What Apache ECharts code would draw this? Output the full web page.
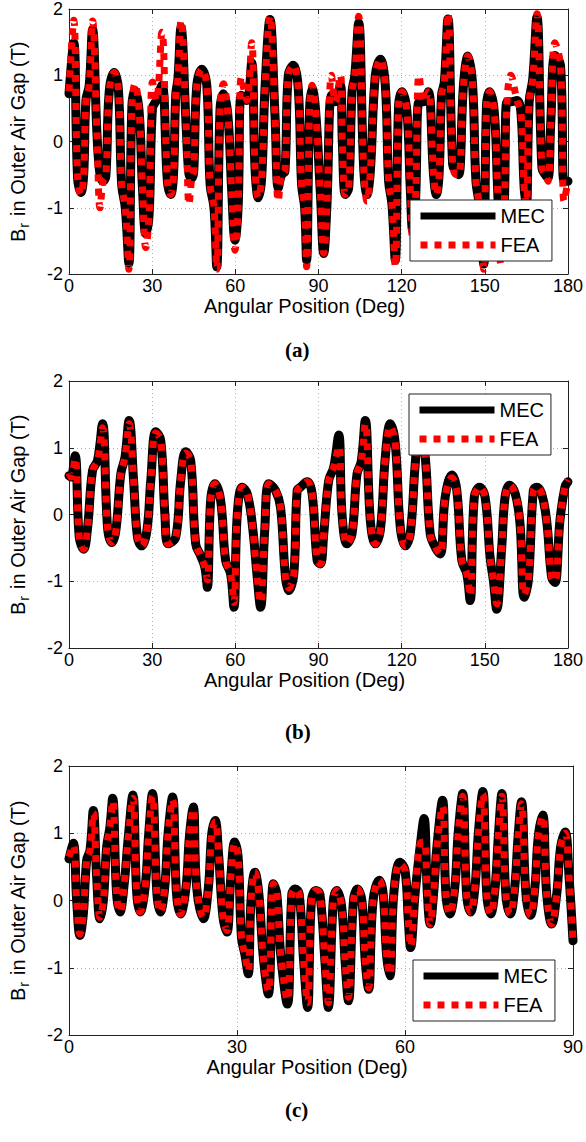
<!DOCTYPE html>
<html><head><meta charset="utf-8">
<script src="https://cdn.jsdelivr.net/npm/echarts@6/dist/echarts.min.js"></script>
<style>html,body{margin:0;padding:0;background:#fff}#c{width:586px;height:1142px}</style>
</head><body><div id="c"></div>
<script>
// ---------- Panel (a) ----------
const aX = [0,1.7,3.1,4.3,5.3,6.1,7.3,8.5,10.1,11.2,12.3,13.3,14.5,16.3,17.8,19.0,20.3,21.6,22.7,23.8,25.3,26.5,27.7,28.9,30.1,31.5,33.5,35.5,36.7,37.7,38.5,39.3,40.4,42.3,43.3,44.3,45.0,46.1,47.9,49.7,50.9,52.3,53.3,54.5,55.7,57.3,58.7,59.9,61.0,62.2,64.1,65.9,67.1,68.3,69.5,70.7,72.5,74.3,75.5,76.7,77.9,79.1,80.9,82.7,83.9,85.0,85.7,86.8,87.7,88.9,90.7,91.9,93.0,94.7,96.1,97.9,98.6,99.7,100.9,102.1,103.1,104.5,106.3,107.5,108.7,110.5,112.3,114.1,115.3,116.5,117.7,118.9,120.1,121.9,123.1,124.0,125.0,126.3,128.0,129.6,131.5,132.5,133.5,134.4,135.4,136.7,138.4,139.6,140.6,142.3,143.9,145.6,146.8,148.2,149.6,150.6,151.7,153.4,154.6,155.8,157.0,158.0,159.4,161.6,163.0,164.2,165.0,166.0,167.3,168.8,170.6,171.8,172.8,173.8,175.3,177.3,178.6,180];
const aMEC = [0.72,1.49,-0.55,-0.77,-0.5,0.62,0.85,1.69,0.1,-0.5,-0.6,-0.52,0.75,1.04,0.8,-0.65,-1.0,-1.84,0.55,0.77,0.45,-0.7,-1.39,-1.1,0.5,0.62,0.85,-0.6,-0.8,-0.5,0.7,0.95,1.72,0.2,-0.5,-0.55,-0.45,0.85,1.09,0.85,-0.65,-1.0,-1.89,0.5,0.72,0.4,-0.75,-1.49,-1.0,0.7,0.62,1.19,-0.4,-0.85,-0.55,0.8,1.84,0.4,-0.7,-0.5,-0.45,1.0,1.15,0.8,-0.65,-1.0,-1.79,0.5,0.8,0.5,-0.8,-1.69,-1.0,0.7,0.6,0.85,0.0,-0.8,-0.7,0.75,1.0,1.79,-0.4,-0.8,-0.45,1.0,1.24,0.85,-0.6,-0.95,-1.79,0.55,0.75,0.45,-0.7,-1.35,-0.9,0.6,0.6,0.75,-0.5,-0.8,-0.5,0.7,0.9,1.85,-0.35,-0.45,-0.5,0.85,1.29,0.85,-0.6,-1.0,-1.85,0.55,0.75,0.45,-0.7,-1.75,-1.0,0.6,0.6,0.62,0.45,-0.7,-0.95,0.6,0.95,1.88,-0.4,-0.5,-0.55,0.3,1.3,1.15,-0.6,-0.6];
const aFEA = [0.76,1.83,-0.55,-0.8,-0.5,0.62,0.85,1.82,0.1,-1.0,-0.6,-0.52,0.75,1.04,0.8,-0.65,-1.0,-1.93,0.55,0.87,0.45,-0.7,-1.6,-1.1,0.9,0.62,1.65,-0.6,-0.8,-0.5,0.7,0.95,1.83,0.2,-0.95,-0.55,-0.45,0.85,1.09,0.85,-0.65,-1.0,-1.93,0.5,0.87,0.4,-0.75,-1.64,-1.0,0.97,0.62,1.49,-0.4,-0.85,-0.55,0.8,1.89,0.4,-0.9,-0.5,-0.45,1.0,1.15,0.8,-0.65,-1.0,-1.89,0.5,0.85,0.5,-0.8,-1.69,-1.0,1.0,0.6,1.0,0.0,-0.8,-0.7,0.75,1.0,1.89,-0.4,-0.9,-0.45,1.0,1.24,0.85,-0.6,-0.95,-1.89,0.55,0.75,0.45,-0.7,-1.5,-0.9,1.0,0.6,0.75,-0.5,-0.8,-0.5,0.7,0.9,1.93,-0.35,-0.5,-0.5,0.85,1.29,0.85,-0.6,-1.0,-1.93,0.55,0.75,0.45,-0.7,-1.85,-1.0,0.6,1.0,0.62,0.45,-0.7,-0.95,0.6,0.95,1.93,-0.4,-0.5,-0.6,0.3,1.49,1.15,-0.9,-0.6];

// ---------- Panel (b) ----------
const bX = [0,0.7,2.2,3.7,5.3,6.7,8.5,10.3,12.1,13.9,15.4,16.9,18.7,20.2,21.7,23.3,24.7,26.2,28.1,29.5,31.3,33.1,34.6,35.8,38.5,40.3,42.1,43.9,45.7,47.5,49.0,49.9,51.1,52.6,54.7,56.5,58.3,59.5,60.7,62.5,64.3,66.1,67.9,69.1,70.6,72.1,74.5,76.3,78.1,79.3,81.1,82.3,83.5,85.9,87.7,89.5,90.7,91.9,93.7,95.5,97.3,98.5,100.3,102.1,103.9,105.4,106.9,108.7,110.5,112.3,114.1,115.9,117.7,119.5,121.3,123.1,124.9,126.3,128.3,130.3,132.1,133.9,135.7,138.1,139.9,141.7,143.5,144.7,146.2,148.1,150.1,151.9,153.1,154.3,156.1,157.3,158.9,161.0,162.7,164.2,165.7,167.5,168.7,170.5,172.3,174.1,175.3,177.1,178.9,180];
const bMEC = [0.58,0.56,0.88,-0.34,-0.52,-0.2,0.66,0.81,1.36,-0.19,-0.42,-0.24,0.61,0.86,1.41,0.51,-0.34,-0.47,-0.24,0.51,1.24,1.11,0,-0.44,-0.34,0.51,0.94,0.81,-0.44,-0.62,-0.79,-1.09,0.21,0.46,0.21,-0.69,-0.89,-1.39,0,0.41,0.31,-0.14,-0.94,-1.39,-0.24,0.46,0.36,0.11,-0.94,-1.14,-0.89,0.36,0.41,0.49,0.31,-0.69,-0.74,-0.29,0.51,0.71,1.19,0,-0.44,-0.29,0.61,0.79,1.41,-0.09,-0.44,-0.24,0.86,1.36,1.06,-0.19,-0.47,-0.29,0.76,1.25,0.95,-0.29,-0.49,-0.59,0.26,0.59,0.36,-0.69,-0.89,-1.29,0.26,0.41,0.26,-0.64,-0.99,-1.42,-0.49,0.26,0.44,0.31,-0.14,-1.24,-0.99,0.36,0.41,0.31,-0.09,-0.94,-1.02,-0.09,0.41,0.49];
const bFEA = [0.62,0.56,0.84,-0.34,-0.52,-0.2,0.66,0.81,1.3,-0.19,-0.42,-0.24,0.61,0.86,1.36,0.51,-0.34,-0.47,-0.24,0.51,1.22,1.11,0,-0.44,-0.34,0.51,0.92,0.81,-0.44,-0.62,-0.79,-0.98,0.21,0.46,0.21,-0.69,-0.89,-1.32,0,0.41,0.31,-0.14,-0.94,-1.32,-0.24,0.46,0.36,0.11,-0.94,-1.1,-0.89,0.36,0.41,0.49,0.31,-0.69,-0.74,-0.29,0.51,0.71,1.02,0,-0.44,-0.29,0.61,0.79,1.36,-0.09,-0.44,-0.24,0.86,1.32,1.06,-0.19,-0.47,-0.29,0.76,1.22,0.95,-0.29,-0.49,-0.59,0.26,0.55,0.36,-0.69,-0.89,-1.22,0.26,0.41,0.26,-0.64,-0.99,-1.34,-0.49,0.26,0.44,0.31,-0.14,-1.2,-0.99,0.36,0.41,0.31,-0.09,-0.94,-1.0,-0.09,0.41,0.52];

// ---------- Panel (c) ----------
const cX = [0,0.77,1.37,1.96,2.56,3.16,3.75,4.35,4.94,5.54,6.13,6.73,7.3,7.8,8.5,9.1,9.8,10.6,11.4,12.1,12.7,13.6,14.2,14.9,15.7,16.3,17.1,17.7,18.5,19.2,19.9,20.9,21.5,22.2,22.8,24.0,24.9,25.5,26.1,26.7,27.5,28.2,28.9,29.6,30.2,30.8,31.4,32.0,32.5,33.2,33.9,34.7,35.6,36.5,37.1,37.8,39.0,39.8,40.4,41.1,41.9,42.6,43.3,44.1,44.8,45.7,46.3,47.2,47.8,48.7,49.3,49.9,50.8,51.5,52.3,52.9,53.5,54.3,55.4,56.1,56.7,57.3,58.0,59.1,60.0,60.6,61.0,61.8,62.7,63.4,64.0,64.5,65.1,65.7,66.7,67.3,68.0,68.9,69.5,70.3,71.0,71.7,72.5,73.1,73.9,74.6,75.3,76.1,76.7,77.3,78.0,78.8,79.6,80.2,80.8,81.6,82.4,83.2,83.8,84.6,85.3,86.2,87.1,87.8,88.6,89.3,90];
const cMEC = [0.62,0.85,0,-0.52,-0.2,0.6,0.75,1.34,0.35,-0.27,0,0.8,1.09,1.52,0.1,-0.17,0.2,0.95,1.57,0.1,-0.17,0.2,0.95,1.59,0.1,-0.17,0.2,1.0,1.54,0.1,-0.2,0.2,0.95,1.39,0.2,-0.27,0.2,1.0,1.19,0.7,-0.25,-0.47,0.35,0.87,0.65,-0.55,-0.8,-1.09,0,0.42,0.1,-0.85,-1.39,0.25,0.1,-0.8,-1.54,0.1,0.17,0.1,-0.9,-1.59,0,0.15,0.1,-0.9,-1.59,0,0.15,-0.1,-0.9,-1.49,0,0.17,0,-0.9,-1.32,0,0.3,0.1,-0.8,-1.12,0.1,0.57,0.45,-0.3,-0.7,0.1,0.8,1.22,0.1,-0.35,0.1,0.8,1.49,0.1,-0.2,0.2,1.0,1.59,0.1,-0.17,0.2,1.0,1.62,0.1,-0.2,0.2,1.0,1.59,0.1,-0.2,0.2,0.95,1.47,0.1,-0.22,0.2,0.95,1.27,0.1,-0.35,0.1,0.8,1.02,0.35,-0.6];
const cFEA = [0.65,0.82,0,-0.5,-0.2,0.6,0.75,1.3,0.35,-0.25,0,0.8,1.09,1.48,0.1,-0.17,0.2,0.95,1.52,0.1,-0.17,0.2,0.95,1.55,0.1,-0.17,0.2,1.0,1.5,0.1,-0.2,0.2,0.95,1.36,0.2,-0.25,0.2,1.0,1.17,0.7,-0.25,-0.45,0.35,0.85,0.65,-0.55,-0.8,-1.05,0,0.42,0.1,-0.85,-1.35,0.25,0.1,-0.8,-1.48,0.1,0.17,0.1,-0.9,-1.52,0,0.15,0.1,-0.9,-1.52,0,0.15,-0.1,-0.9,-1.44,0,0.17,0,-0.9,-1.3,0,0.3,0.1,-0.8,-1.1,0.1,0.55,0.45,-0.3,-0.68,0.1,0.85,0.87,0.1,-0.35,0.1,0.8,1.4,0.1,-0.2,0.2,1.0,1.55,0.1,-0.17,0.2,1.0,1.58,0.1,-0.2,0.2,1.0,1.55,0.1,-0.2,0.2,0.95,1.44,0.1,-0.22,0.2,0.95,1.25,0.1,-0.35,0.1,0.8,1.0,0.35,-0.6];

const yTicks = [-2, -1, 0, 1, 2];
const xMaxes = [180, 180, 90];
const captions = ['(a)', '(b)', '(c)'];
const seriesNames = ['MEC', 'FEA'];
const xTitle = 'Angular Position (Deg)';

const zip = (xs, ys) => xs.map((x, i) => [x, ys[i]]);
const panels = [[aX, aMEC, aFEA], [bX, bMEC, bFEA], [cX, cMEC, cFEA]];

const grids = [
  {left: 68, top: 6, width: 500, height: 268},
  {left: 68, top: 381, width: 500, height: 267},
  {left: 69, top: 766, width: 504, height: 269}
];
const legendPos = [
  {left: 410, top: 200},
  {left: 409, top: 394},
  {left: 413, top: 960}
];
const capTop = [339, 721, 1099];

const FONT = 'Liberation Sans, Arial, sans-serif';
const axisColor = '#222';
const xAxes = [], yAxes = [], series = [], legends = [], titles = [];
grids.forEach((g, i) => {
  xAxes.push({
    gridIndex: i, type: 'value', position: 'bottom', min: 0, max: xMaxes[i], interval: 30,
    axisLine: {show: true, onZero: false, lineStyle: {color: axisColor, width: 1}},
    axisTick: {show: true, inside: true, length: 5, lineStyle: {color: axisColor}},
    axisLabel: {fontSize: 18, color: '#000', margin: 3, fontFamily: FONT},
    splitLine: {show: true, lineStyle: {type: [1, 3], color: '#b0b0b0', width: 1}},
    name: xTitle, nameLocation: 'middle', nameGap: 21,
    nameTextStyle: {fontSize: 20, color: '#000', fontFamily: FONT, padding: [0, 28, 0, 0]}
  });
  xAxes.push({
    gridIndex: i, type: 'value', position: 'top', min: 0, max: xMaxes[i], interval: 30,
    axisLine: {show: true, onZero: false, lineStyle: {color: axisColor, width: 1}},
    axisTick: {show: true, inside: true, length: 5, lineStyle: {color: axisColor}},
    axisLabel: {show: false}, splitLine: {show: false}
  });
  yAxes.push({
    gridIndex: i, type: 'value', position: 'left', min: yTicks[0], max: yTicks[yTicks.length - 1], interval: 1,
    axisLine: {show: true, onZero: false, lineStyle: {color: axisColor, width: 1}},
    axisTick: {show: true, inside: true, length: 5, lineStyle: {color: axisColor}},
    axisLabel: {fontSize: 18, color: '#000', margin: 6, fontFamily: FONT},
    splitLine: {show: true, lineStyle: {type: [1, 3], color: '#b0b0b0', width: 1}},
    name: '{a|B}{s|r}{a| in Outer Air Gap (T)}', nameLocation: 'middle', nameGap: 38, nameRotate: 90,
    nameTextStyle: {color: '#000', fontFamily: FONT, fontSize: 20,
      rich: {a: {fontSize: 20, color: '#000', fontFamily: FONT},
             s: {fontSize: 14, color: '#000', fontFamily: FONT, padding: [12, 1, 0, 1]}}}
  });
  yAxes.push({
    gridIndex: i, type: 'value', position: 'right', min: yTicks[0], max: yTicks[yTicks.length - 1], interval: 1,
    axisLine: {show: true, onZero: false, lineStyle: {color: axisColor, width: 1}},
    axisTick: {show: true, inside: true, length: 5, lineStyle: {color: axisColor}},
    axisLabel: {show: false}, splitLine: {show: false}
  });
  const [xs, mec, fea] = panels[i];
  series.push({
    name: seriesNames[0], type: 'line', xAxisIndex: 2 * i, yAxisIndex: 2 * i,
    data: zip(xs, mec), smooth: 0.4, symbol: 'none', showSymbol: false,
    lineStyle: {color: '#000', width: 9, cap: 'round', join: 'round'},
    itemStyle: {color: '#000'}, z: 2
  });
  series.push({
    name: seriesNames[1], type: 'line', xAxisIndex: 2 * i, yAxisIndex: 2 * i,
    data: zip(xs, fea), smooth: 0.4, symbol: 'none', showSymbol: false,
    lineStyle: {color: '#ff0000', width: 7, type: [7, 7], cap: 'butt', join: 'round'},
    itemStyle: {color: '#ff0000'}, z: 3
  });
  legends.push({
    orient: 'vertical', left: legendPos[i].left, top: legendPos[i].top,
    padding: [6, 7, 6, 7], itemWidth: 75, itemHeight: 20, itemGap: 9,
    borderColor: '#222', borderWidth: 1, backgroundColor: '#fff', borderRadius: 0,
    textStyle: {fontSize: 20, color: '#000', fontFamily: FONT},
    itemStyle: {opacity: 0},
    lineStyle: {width: 7, cap: 'butt'},
    data: seriesNames, selectedMode: false, z: 10
  });
  titles.push({
    text: captions[i], left: 285, top: capTop[i], padding: 0,
    textStyle: {fontFamily: 'Liberation Serif, Times New Roman, serif', fontWeight: 'bold', fontSize: 21, color: '#000'}
  });
});

const chart = echarts.init(document.getElementById('c'), null, {renderer: 'svg'});
chart.setOption({
  animation: false,
  backgroundColor: '#fff',
  title: titles,
  grid: grids,
  xAxis: xAxes,
  yAxis: yAxes,
  legend: legends,
  series: series
});
</script>
</body></html>
